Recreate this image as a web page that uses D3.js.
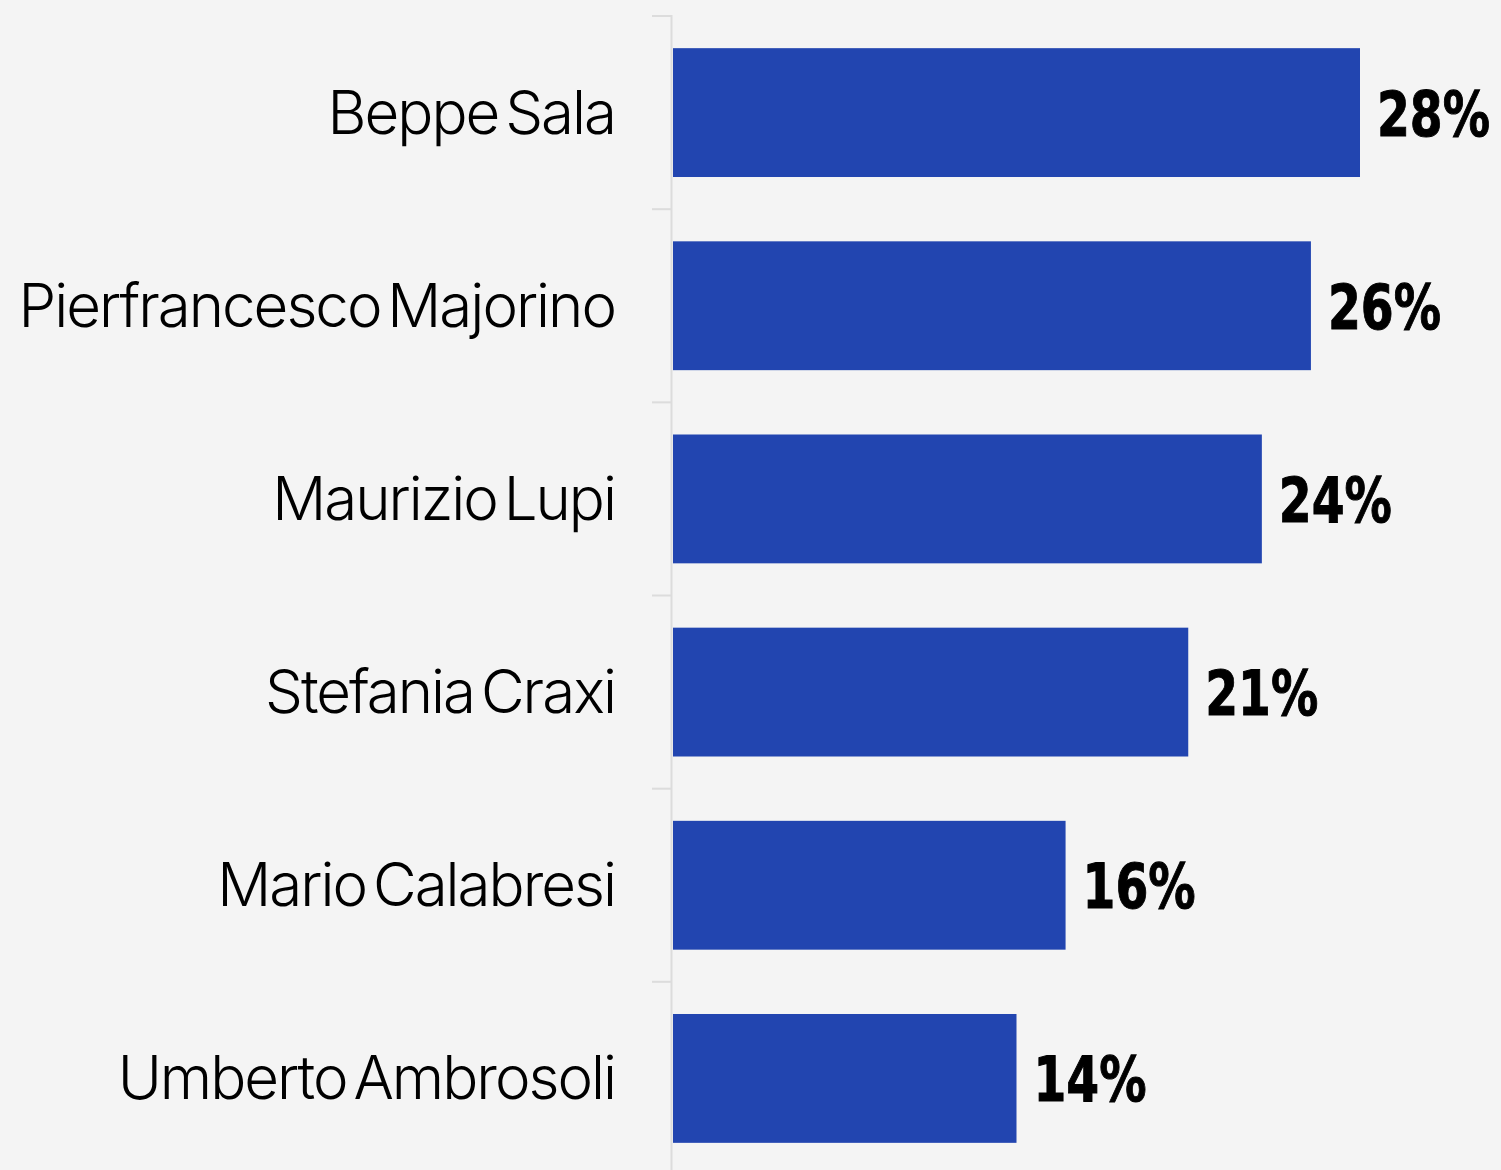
<!DOCTYPE html>
<meta charset="utf-8">
<style>
body { margin: 0; background: #f4f4f4; }
.name { font-family: Inter, sans-serif; font-weight: 300; font-size: 60px; letter-spacing: -2px; word-spacing: -8px; fill: #000; }
.val { font-family: "DejaVu Sans", sans-serif; font-weight: bold; font-size: 63px; fill: #000; stroke: #000; stroke-width: 1px; }
</style>
<body>
<script src="https://d3js.org/d3.v7.min.js"></script>
<script>

var names = ["Beppe Sala", "Pierfrancesco Majorino", "Maurizio Lupi", "Stefania Craxi", "Mario Calabresi", "Umberto Ambrosoli"];
var values = [28, 26, 24, 21, 16, 14];

var width = 1501, height = 1170;
var svg = d3.select("body").append("svg")
    .attr("width", width)
    .attr("height", height);

svg.append("rect").attr("width", width).attr("height", height).attr("fill", "#f4f4f4");

var x = d3.scaleLinear().domain([0, 28]).range([673, 1360]);
var y = d3.scaleBand().domain(names).range([16, 1175]).paddingInner(0.333).paddingOuter(0.1665);

// axis line with small ticks between the rows
var tickYs = names.map(function(d, i) { return 16 + i * y.step(); });

svg.append("line")
    .attr("x1", 671.5).attr("x2", 671.5)
    .attr("y1", 15).attr("y2", height)
    .attr("stroke", "#dcdcdc").attr("stroke-width", 2);

svg.selectAll(".tick")
  .data(tickYs)
  .enter().append("line")
    .attr("class", "tick")
    .attr("x1", 652).attr("x2", 671)
    .attr("y1", function(d) { return d; }).attr("y2", function(d) { return d; })
    .attr("stroke", "#dcdcdc").attr("stroke-width", 2);

var data = names.map(function(n, i) { return {name: n, value: values[i]}; });

svg.selectAll(".bar")
  .data(data)
  .enter().append("rect")
    .attr("class", "bar")
    .attr("x", x(0))
    .attr("y", function(d) { return y(d.name); })
    .attr("width", function(d) { return x(d.value) - x(0); })
    .attr("height", y.bandwidth())
    .attr("fill", "#2245b0");

svg.selectAll(".name")
  .data(data)
  .enter().append("text")
    .attr("class", "name")
    .attr("x", 615)
    .attr("y", function(d) { return y(d.name) + y.bandwidth() / 2 + 21; })
    .attr("text-anchor", "end")
    .text(function(d) { return d.name; });

// value labels: narrow bold, squeezed horizontally
svg.selectAll(".val")
  .data(data)
  .enter().append("text")
    .attr("class", "val")
    .attr("transform", function(d) {
      return "translate(" + (x(d.value) + 17) + "," + (y(d.name) + y.bandwidth() / 2 + 23) + ") scale(0.75,1)";
    })
    .text(function(d) { return d.value + "%"; });

</script>
